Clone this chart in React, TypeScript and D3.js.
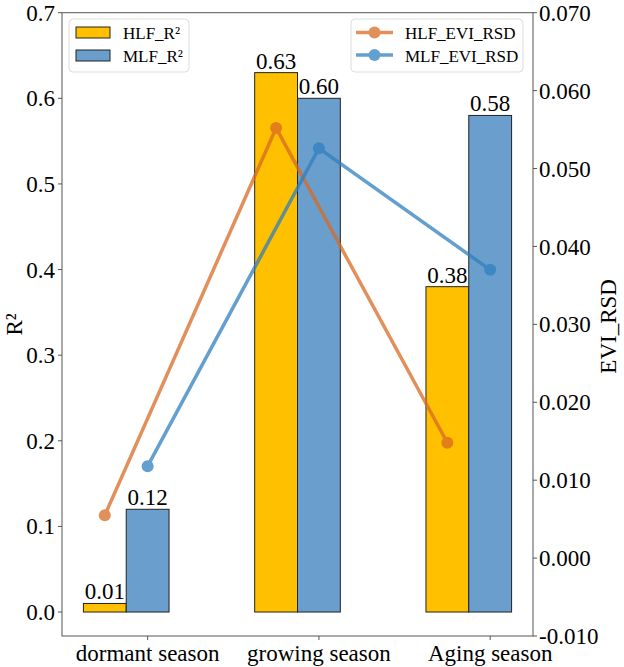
import React from "react";
import * as d3 from "d3";

const categories = ["dormant season", "growing season", "Aging season"];
const hlfR2 = [0.01, 0.63, 0.38];
const mlfR2 = [0.12, 0.6, 0.58];
const hlfRsd = [0.0055, 0.0552, 0.0148];
const mlfRsd = [0.0118, 0.0526, 0.037];
const leftTicks = [0.0, 0.1, 0.2, 0.3, 0.4, 0.5, 0.6, 0.7];
const rightTicks = [-0.01, 0.0, 0.01, 0.02, 0.03, 0.04, 0.05, 0.06, 0.07];

const W = 624;
const H = 667;
const L = 62;
const R = 533;
const T = 12.7;
const B = 636;
const FONT = "'Liberation Serif', 'DejaVu Serif', serif";
const FS = 23;
const GOLD = "#FFC000";
const BLUE = "#6A9FCD";
const LORANGE = "#D86A25";
const LBLUE = "#2F7FC0";

export default function App() {
  const x = d3.scaleLinear().domain([-0.375, 2.375]).range([L, R]);
  const yL = d3.scaleLinear().domain([-0.028, 0.7]).range([B, T]);
  const yR = d3.scaleLinear().domain([-0.01, 0.07]).range([B, T]);
  const bw = 0.25;
  const pathFor = (vals: number[], off: number) =>
    d3
      .line<number>()
      .x((_, i) => x(i + off))
      .y((d) => yR(d))(vals) as string;

  return (
    <svg
      width={W}
      height={H}
      style={{ position: "absolute", left: 0, top: 0, background: "#fff" }}
      fontFamily={FONT}
    >
      {/* bars */}
      {categories.map((c, i) => (
        <g key={c}>
          <rect
            x={x(i - bw)}
            y={yL(hlfR2[i])}
            width={x(i) - x(i - bw)}
            height={yL(0) - yL(hlfR2[i])}
            fill={GOLD}
            stroke="#222"
            strokeWidth={1}
          />
          <rect
            x={x(i)}
            y={yL(mlfR2[i])}
            width={x(i + bw) - x(i)}
            height={yL(0) - yL(mlfR2[i])}
            fill={BLUE}
            stroke="#222"
            strokeWidth={1}
          />
          <text
            x={x(i - bw / 2)}
            y={yL(hlfR2[i]) - 4}
            textAnchor="middle"
            fontSize={FS}
            fill="#000"
          >
            {hlfR2[i].toFixed(2)}
          </text>
          <text
            x={x(i + bw / 2)}
            y={yL(mlfR2[i]) - 4}
            textAnchor="middle"
            fontSize={FS}
            fill="#000"
          >
            {mlfR2[i].toFixed(2)}
          </text>
        </g>
      ))}

      {/* lines */}
      <g opacity={0.75}>
        <path d={pathFor(hlfRsd, -bw / 2)} fill="none" stroke={LORANGE} strokeWidth={3.5} />
        {hlfRsd.map((v, i) => (
          <circle key={i} cx={x(i - bw / 2)} cy={yR(v)} r={6} fill={LORANGE} />
        ))}
      </g>
      <g opacity={0.75}>
        <path d={pathFor(mlfRsd, bw / 2)} fill="none" stroke={LBLUE} strokeWidth={3.5} />
        {mlfRsd.map((v, i) => (
          <circle key={i} cx={x(i + bw / 2)} cy={yR(v)} r={6} fill={LBLUE} />
        ))}
      </g>

      {/* frame */}
      <rect x={L} y={T} width={R - L} height={B - T} fill="none" stroke="#555" strokeWidth={1} />

      {/* left axis ticks */}
      {leftTicks.map((t) => (
        <g key={t} transform={`translate(${L},${yL(t)})`}>
          <line x1={-4} x2={0} stroke="#555" />
          <text x={-7} dy="0.35em" textAnchor="end" fontSize={FS} fill="#000">
            {t.toFixed(1)}
          </text>
        </g>
      ))}
      {/* right axis ticks */}
      {rightTicks.map((t) => (
        <g key={t} transform={`translate(${R},${yR(t)})`}>
          <line x1={0} x2={4} stroke="#555" />
          <text x={6} dy="0.35em" textAnchor="start" fontSize={FS} fill="#000">
            {t.toFixed(3)}
          </text>
        </g>
      ))}
      {/* x axis ticks (placed at the centre of the second bar, as in the reference) */}
      {categories.map((c, i) => (
        <g key={c} transform={`translate(${x(i + bw / 2)},${B})`}>
          <line y1={0} y2={4} stroke="#555" />
          <text y={25} textAnchor="middle" fontSize={FS} fill="#000">
            {c}
          </text>
        </g>
      ))}

      {/* axis labels */}
      <text
        transform={`translate(22,${(T + B) / 2}) rotate(-90)`}
        textAnchor="middle"
        fontSize={FS}
        fill="#000"
      >
        R²
      </text>
      <text
        transform={`translate(616,${(T + B) / 2 + 2}) rotate(-90)`}
        textAnchor="middle"
        fontSize={FS}
        fill="#000"
      >
        EVI_RSD
      </text>

      {/* legend 1 */}
      <rect x={69} y={19} width={120} height={53} rx={4} fill="#fff" fillOpacity={0.8} stroke="#ddd" />
      <rect x={76} y={27} width={34} height={11} fill={GOLD} stroke="#222" />
      <rect x={76} y={50} width={34} height={11} fill={BLUE} stroke="#222" />
      <text x={123} y={39} fontSize={17} fill="#000">HLF_R²</text>
      <text x={123} y={62} fontSize={17} fill="#000">MLF_R²</text>

      {/* legend 2 */}
      <rect x={351} y={19} width={172} height={53} rx={4} fill="#fff" fillOpacity={0.8} stroke="#ddd" />
      <g opacity={0.75}>
        <line x1={356} x2={393} y1={32.5} y2={32.5} stroke={LORANGE} strokeWidth={3.5} />
        <circle cx={374.5} cy={32.5} r={6} fill={LORANGE} />
      </g>
      <g opacity={0.75}>
        <line x1={356} x2={393} y1={55} y2={55} stroke={LBLUE} strokeWidth={3.5} />
        <circle cx={374.5} cy={55} r={6} fill={LBLUE} />
      </g>
      <text x={405} y={39} fontSize={17} fill="#000">HLF_EVI_RSD</text>
      <text x={405} y={62} fontSize={17} fill="#000">MLF_EVI_RSD</text>
    </svg>
  );
}
